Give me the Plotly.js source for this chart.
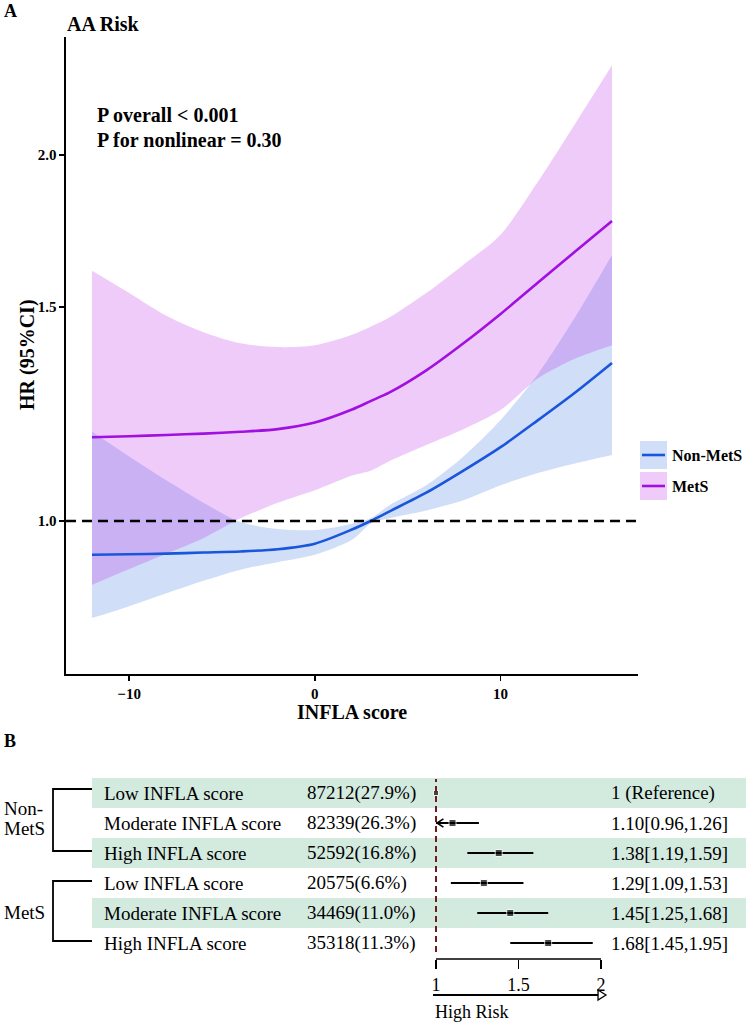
<!DOCTYPE html>
<html><head><meta charset="utf-8">
<script src="https://cdn.plot.ly/plotly-3.0.1.min.js"></script>
<style>html,body{margin:0;padding:0;background:#fff}</style>
</head><body><div id="chart" style="width:746px;height:1022px"></div>
<script>
// ---------- Panel A data (restricted cubic spline) ----------
const inflaScore    = [-12, -10, -8, -6, -4, -2, 0, 2, 3, 4, 6, 8, 10, 12, 14, 16];
const nonMetsHR     = [0.938, 0.939, 0.940, 0.942, 0.944, 0.948, 0.958, 0.984, 1.000, 1.018, 1.055, 1.100, 1.150, 1.210, 1.275, 1.349];
const nonMetsLower  = [0.832, 0.851, 0.872, 0.893, 0.912, 0.925, 0.938, 0.965, 0.995, 1.005, 1.020, 1.040, 1.070, 1.095, 1.115, 1.133];
const nonMetsUpper  = [1.184, 1.130, 1.080, 1.035, 0.998, 0.985, 0.983, 0.995, 1.005, 1.030, 1.070, 1.130, 1.211, 1.320, 1.470, 1.655];
const metsHR        = [1.172, 1.174, 1.177, 1.180, 1.184, 1.190, 1.205, 1.235, 1.255, 1.275, 1.330, 1.400, 1.480, 1.570, 1.665, 1.765];
const metsLower     = [0.886, 0.913, 0.940, 0.968, 1.005, 1.035, 1.060, 1.090, 1.100, 1.120, 1.155, 1.190, 1.234, 1.310, 1.360, 1.395];
const metsUpper     = [1.606, 1.540, 1.475, 1.430, 1.400, 1.390, 1.395, 1.423, 1.445, 1.470, 1.540, 1.625, 1.720, 1.900, 2.120, 2.370];
const seriesNames   = ["Non-MetS", "MetS"];
const xTicks        = [-10, 0, 10];
const yTicks        = [1.0, 1.5, 2.0];
const yTickLabels   = ["1.0", "1.5", "2.0"];

// ---------- Panel B data (forest plot) ----------
const groups          = ["Non-MetS", "MetS"];
const characteristics = ["Low INFLA score", "Moderate INFLA score", "High INFLA score", "Low INFLA score", "Moderate INFLA score", "High INFLA score"];
const numbers         = ["87212(27.9%)", "82339(26.3%)", "52592(16.8%)", "20575(6.6%)", "34469(11.0%)", "35318(11.3%)"];
const hrValues        = [1.00, 1.10, 1.38, 1.29, 1.45, 1.68];
const ciLower         = [null, 0.96, 1.19, 1.09, 1.25, 1.45];
const ciUpper         = [null, 1.26, 1.59, 1.53, 1.68, 1.95];
const hrLabels        = ["1 (Reference)", "1.10[0.96,1.26]", "1.38[1.19,1.59]", "1.29[1.09,1.53]", "1.45[1.25,1.68]", "1.68[1.45,1.95]"];
const forestTicks     = [1, 1.5, 2];
const forestTickText  = ["1", "1.5", "2"];

// ---------- helpers ----------
const W = 746, H = 1022;
const px = x => x / W;
const py = y => 1 - y / H;
const SERIF = "Liberation Serif";
const BLUE = "#1a56db", PURPLE = "#a010e0";
const BLUE_FILL = "rgba(20,90,220,0.2)", PINK_FILL = "rgba(180,20,230,0.22)";
const GREEN = "#d3eadf";
const xmin = 1;

const rowY = characteristics.map((_, i) => characteristics.length - i); // 6..1

const traces = [];
const rib = (y, extra) => Object.assign({x: inflaScore, y: y, mode: "lines", line: {width: 0, shape: "spline", smoothing: 0.8}, showlegend: false, xaxis: "x", yaxis: "y", hoverinfo: "skip"}, extra || {});
traces.push(rib(nonMetsLower));
traces.push(rib(nonMetsUpper, {fill: "tonexty", fillcolor: BLUE_FILL}));
traces.push(rib(metsLower));
traces.push(rib(metsUpper, {fill: "tonexty", fillcolor: PINK_FILL}));
traces.push({x: inflaScore, y: nonMetsHR, mode: "lines", name: seriesNames[0], line: {color: BLUE, width: 2.6, shape: "spline", smoothing: 0.8}, showlegend: false, xaxis: "x", yaxis: "y"});
traces.push({x: inflaScore, y: metsHR, mode: "lines", name: seriesNames[1], line: {color: PURPLE, width: 2.6, shape: "spline", smoothing: 0.8}, showlegend: false, xaxis: "x", yaxis: "y"});

// forest
const errPlus = hrValues.map((v, i) => ciUpper[i] == null ? 0 : ciUpper[i] - v);
const errMinus = hrValues.map((v, i) => ciLower[i] == null ? 0 : v - Math.max(ciLower[i], xmin));
traces.push({
  x: hrValues, y: rowY, mode: "markers", xaxis: "x2", yaxis: "y2", showlegend: false, cliponaxis: false,
  marker: {symbol: "square", color: "black", size: hrValues.map((v, i) => ciLower[i] == null ? 5 : 7)},
  error_x: {type: "data", symmetric: false, array: errPlus, arrayminus: errMinus, width: 0, thickness: 2, color: "black"}
});

const shapes = [];
shapes.push({type: "line", xref: "x domain", yref: "y", x0: 0, x1: 1, y0: 1, y1: 1, line: {color: "black", width: 2.5, dash: "10px,6px"}, layer: "above"});
[[441, BLUE_FILL, BLUE], [472, PINK_FILL, PURPLE]].forEach(([top, fill, col]) => {
  shapes.push({type: "rect", xref: "paper", yref: "paper", x0: px(640), x1: px(667), y0: py(top), y1: py(top + 28), fillcolor: fill, line: {width: 0}});
  shapes.push({type: "line", xref: "paper", yref: "paper", x0: px(642), x1: px(665), y0: py(top + 14), y1: py(top + 14), line: {color: col, width: 2.6}});
});
rowY.forEach((v, i) => {
  if (i % 2 === 0) shapes.push({type: "rect", xref: "paper", yref: "y2", x0: px(92), x1: 1, y0: v - 0.5, y1: v + 0.5, fillcolor: GREEN, line: {width: 0}, layer: "below"});
});
shapes.push({type: "line", xref: "x2", yref: "paper", x0: 1, x1: 1, y0: py(952), y1: py(779), line: {color: "#6e1c1c", width: 2, dash: "6px,4px"}});
rowY.forEach((v, i) => {
  if (ciLower[i] != null && ciLower[i] < xmin) {
    shapes.push({type: "path", xref: "x2", yref: "y2", path: `M ${xmin + 0.045},${v + 0.14} L ${xmin + 0.006},${v} L ${xmin + 0.045},${v - 0.14}`, line: {color: "black", width: 1.6}});
  }
});
shapes.push({type: "line", xref: "x2", yref: "paper", x0: 1, x1: 2, y0: py(959), y1: py(959), line: {color: "black", width: 1.5}});
shapes.push({type: "line", xref: "x2", yref: "paper", x0: 0.982, x1: 1.982, y0: py(995), y1: py(995), line: {color: "black", width: 2}});
shapes.push({type: "path", xref: "x2", yref: "paper", path: `M 1.982,${py(990)} L 2.03,${py(995)} L 1.982,${py(1000)} Z`, fillcolor: "white", line: {color: "black", width: 1.3}});
[[789, 851], [881, 941]].forEach(([t, b]) => {
  shapes.push({type: "path", xref: "paper", yref: "paper", path: `M ${px(92)},${py(t)} L ${px(53)},${py(t)} L ${px(53)},${py(b)} L ${px(92)},${py(b)}`, line: {color: "black", width: 1.8}});
});

const ann = [];
const A = (o) => ann.push(Object.assign({showarrow: false, xref: "paper", yref: "paper", xanchor: "left", yanchor: "middle", font: {family: SERIF, size: 19, color: "black"}}, o));
const F = (s) => ({family: SERIF, size: s, color: "black"});
A({text: "<b>A</b>", x: px(2), y: py(11), font: F(18)});
A({text: "<b>AA Risk</b>", x: px(65), y: py(24), font: F(20)});
A({text: "<b>P overall < 0.001</b>", x: px(95), y: py(115), font: F(20)});
A({text: "<b>P for nonlinear = 0.30</b>", x: px(95), y: py(140), font: F(20)});
A({text: "<b>HR (95%CI)</b>", x: px(27), y: py(355), xanchor: "center", textangle: -90, font: F(20)});
A({text: "<b>INFLA score</b>", x: px(352), y: py(712), xanchor: "center", font: F(20)});
A({text: "<b>" + seriesNames[0] + "</b>", x: px(670), y: py(455), font: F(16)});
A({text: "<b>" + seriesNames[1] + "</b>", x: px(670), y: py(486), font: F(16)});
A({text: "<b>B</b>", x: px(2), y: py(741), font: F(18)});
const headY = 7.03;
A({text: "<b>Characteristics</b>", x: px(102), y: headY, yref: "y2"});
A({text: "<b>Number</b>", x: px(305), y: headY, yref: "y2"});
A({text: "<b>HR (95% CI)</b>", x: px(609), y: headY, yref: "y2"});
rowY.forEach((v, i) => {
  A({text: characteristics[i], x: px(102), y: v, yref: "y2"});
  A({text: numbers[i], x: px(305), y: v, yref: "y2"});
  A({text: hrLabels[i], x: px(609), y: v, yref: "y2"});
});
A({text: "Non-", x: px(2), y: py(808)});
A({text: "MetS", x: px(2), y: py(828)});
A({text: groups[1], x: px(2), y: py(912)});
A({text: "High Risk", x: px(433), y: py(1012), font: F(18)});

const tickFontBold = {family: SERIF, size: 15, color: "black", weight: "bold"};
const layout = {
  width: W, height: H, margin: {l: 0, r: 0, t: 0, b: 0},
  paper_bgcolor: "white", plot_bgcolor: "rgba(0,0,0,0)", showlegend: false, hovermode: false,
  font: {family: SERIF},
  xaxis: {domain: [px(66), px(638)], range: [-13.4, 17.4], anchor: "y", showline: true, linecolor: "black", linewidth: 1.6,
          ticks: "outside", ticklen: 5, tickwidth: 1.5, tickcolor: "black", tickvals: xTicks, tickfont: tickFontBold,
          showgrid: false, zeroline: false},
  yaxis: {type: "log", domain: [py(674), py(37)], range: [-0.12584, 0.39808], anchor: "x", showline: true, linecolor: "black", linewidth: 1.6,
          ticks: "outside", ticklen: 5, tickwidth: 1.5, tickcolor: "black", tickvals: yTicks, ticktext: yTickLabels, tickfont: tickFontBold,
          showgrid: false, zeroline: false},
  xaxis2: {domain: [px(420), px(620)], range: [0.90303, 2.11515], anchor: "y2", showline: false,
           ticks: "outside", ticklen: 9, tickwidth: 1.5, tickcolor: "black", tickvals: forestTicks, ticktext: forestTickText,
           tickfont: F(18), showgrid: false, zeroline: false},
  yaxis2: {domain: [py(959), py(775)], range: [0.4667, 6.6], anchor: "x2", visible: false, showgrid: false, zeroline: false},
  shapes: shapes, annotations: ann
};
Plotly.newPlot("chart", traces, layout, {staticPlot: true, displayModeBar: false});
</script></body></html>
